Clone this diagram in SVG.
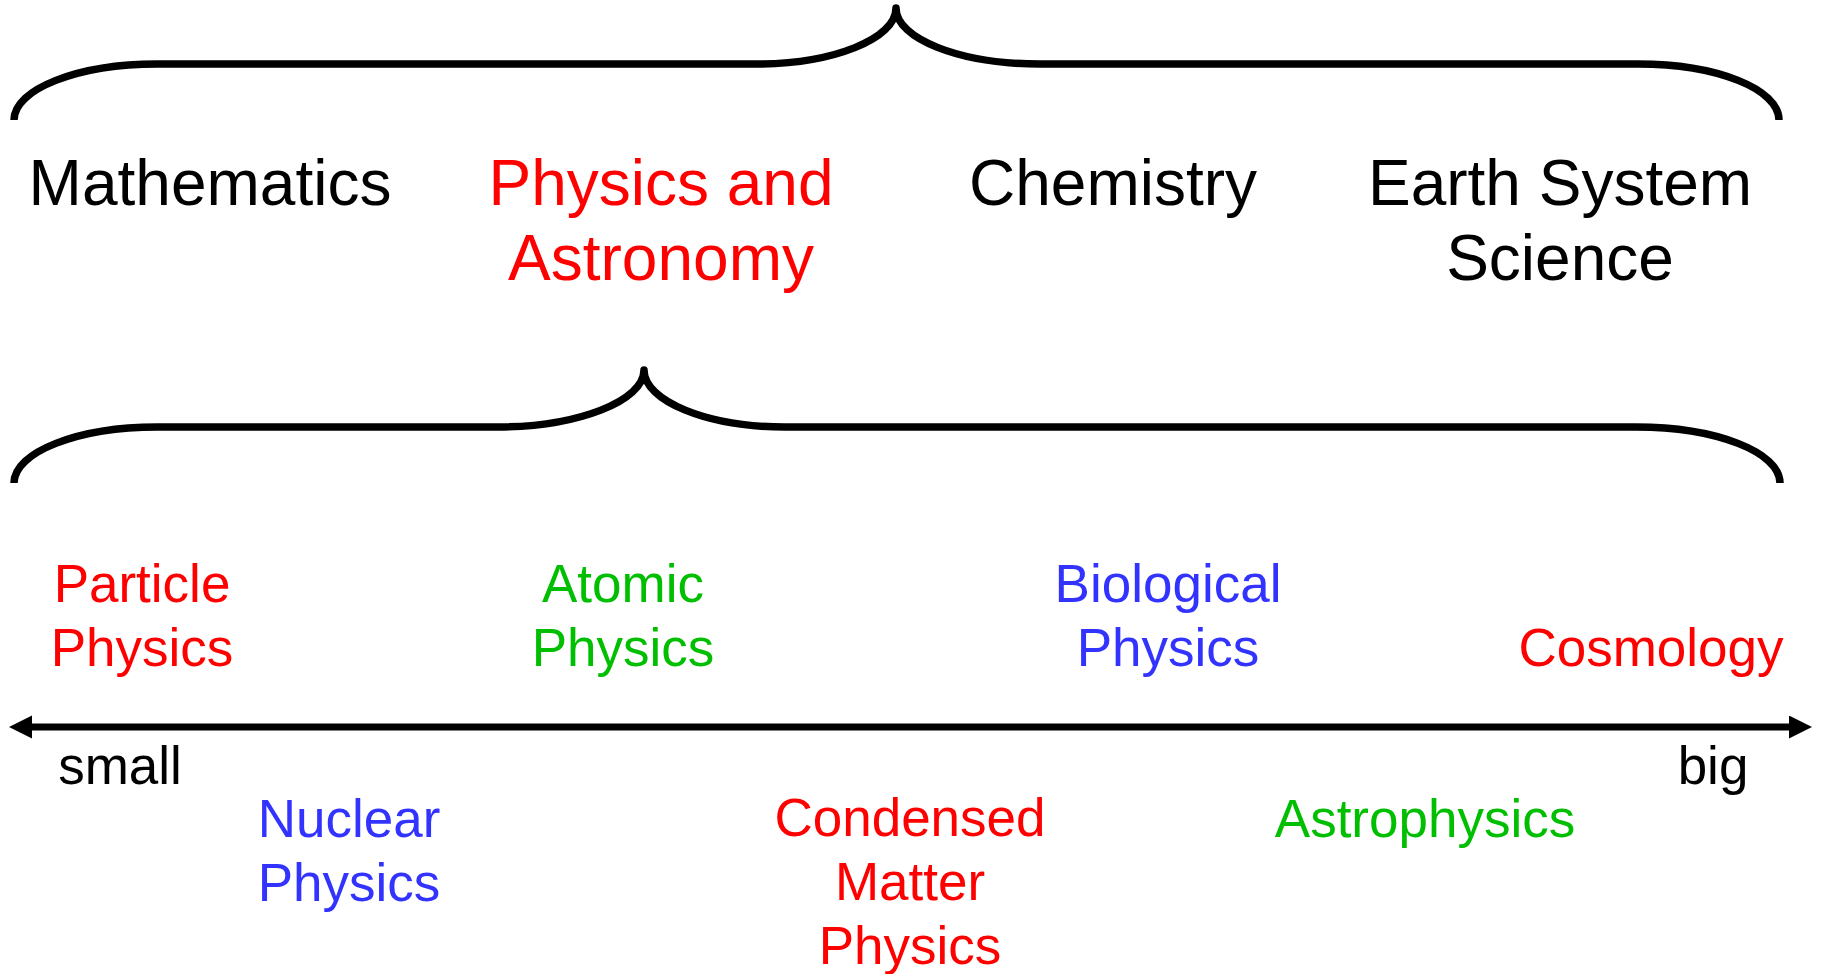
<svg xmlns="http://www.w3.org/2000/svg" width="1824" height="974" viewBox="0 0 1824 974">
<style>
text{font-family:"Liberation Sans",Arial,Helvetica,sans-serif;text-anchor:middle}
.big{font-size:64px}
.sm{font-size:53px}
.k{fill:#000}
.r{fill:#FF0000}
.g{fill:#00BF00}
.b{fill:#3333FF}
.brace{fill:none;stroke:#000;stroke-width:7.5;stroke-linejoin:round;stroke-linecap:butt}
</style>
<defs>
<marker id="ah" markerUnits="userSpaceOnUse" markerWidth="24" markerHeight="24" viewBox="0 0 24 24" refX="4" refY="11.5" orient="auto-start-reverse">
<path d="M0,0 L23,11.5 L0,23 z" fill="#000"/>
</marker>
</defs>
<rect width="1824" height="974" fill="#fff"/>
<g id="brace-top">
<path class="brace" d="M14,120 C14,89 78,64 157,64 L756,64 C833,64 896,39 896,8 C896,39 960,64 1040,64 L1638,64 C1717,64 1779,89 1779,120"/>
</g>
<g id="brace-bottom">
<path class="brace" d="M14,483 C14,452 78,427 157,427 L497,427 C578,427 644,401 644,370 C644,401 707,427 785,427 L1636,427 C1716,427 1780,452 1780,483"/>
</g>
<g id="connectors">
<path d="M28,727 L1793,727" stroke="#000" stroke-width="7" fill="none" marker-start="url(#ah)" marker-end="url(#ah)"/>
</g>
<g id="mathematics"><text class="big k" x="210" y="205">Mathematics</text></g>
<g id="physics-astronomy"><text class="big r" x="661" y="205">Physics and</text><text class="big r" x="661" y="280">Astronomy</text></g>
<g id="chemistry"><text class="big k" x="1113" y="205">Chemistry</text></g>
<g id="earth-system-science"><text class="big k" x="1560" y="205">Earth System</text><text class="big k" x="1560" y="280">Science</text></g>
<g id="particle-physics"><text class="sm r" x="142" y="602">Particle</text><text class="sm r" x="142" y="666">Physics</text></g>
<g id="atomic-physics"><text class="sm g" x="623" y="602">Atomic</text><text class="sm g" x="623" y="666">Physics</text></g>
<g id="biological-physics"><text class="sm b" x="1168" y="602">Biological</text><text class="sm b" x="1168" y="666">Physics</text></g>
<g id="cosmology"><text class="sm r" x="1651" y="666">Cosmology</text></g>
<g id="small"><text class="sm k" x="120" y="784">small</text></g>
<g id="big"><text class="sm k" x="1713" y="784">big</text></g>
<g id="nuclear-physics"><text class="sm b" x="349" y="837">Nuclear</text><text class="sm b" x="349" y="901">Physics</text></g>
<g id="condensed-matter-physics"><text class="sm r" x="910" y="836">Condensed</text><text class="sm r" x="910" y="900">Matter</text><text class="sm r" x="910" y="964">Physics</text></g>
<g id="astrophysics"><text class="sm g" x="1425" y="837">Astrophysics</text></g>
</svg>
